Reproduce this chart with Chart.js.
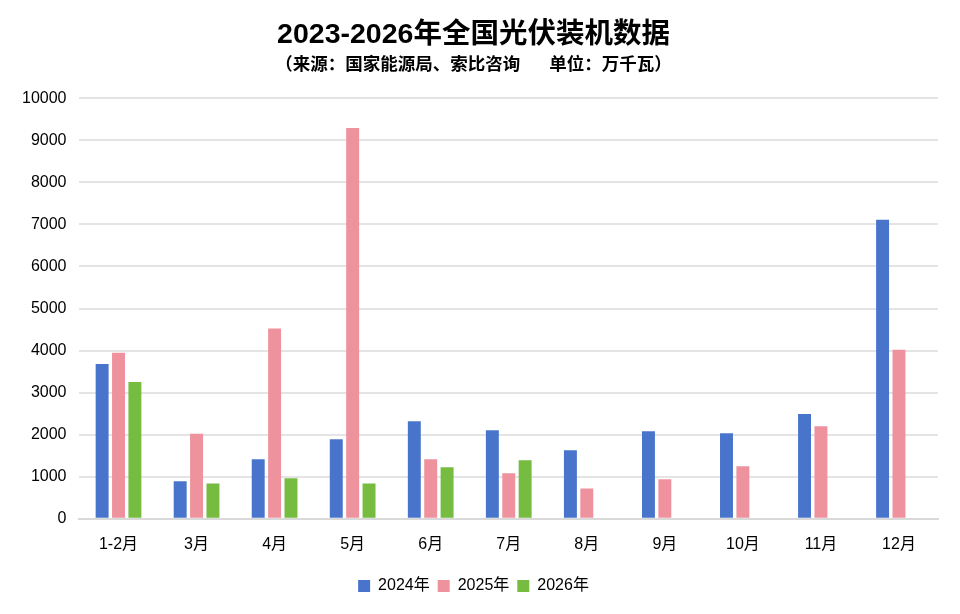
<!DOCTYPE html>
<html>
<head>
<meta charset="utf-8">
<script src="https://cdn.jsdelivr.net/npm/chart.js@4"></script>
<style>
  html, body { margin: 0; padding: 0; background: #fff; }
  #wrap { width: 960px; height: 614px; }
</style>
</head>
<body>
<div id="wrap"><canvas id="chart" width="960" height="614"></canvas></div>
<script>
// months on the x axis
const months = ['1-2月', '3月', '4月', '5月', '6月', '7月', '8月', '9月', '10月', '11月', '12月'];
// installations, 万千瓦
const data2024 = [3680, 890, 1415, 1893, 2322, 2107, 1630, 2083, 2036, 2489, 7110];
const data2025 = [3945, 2020, 4523, 9290, 1415, 1081, 723, 938, 1248, 2203, 4022];
const data2026 = [3253, 842, 962, 842, 1224, 1391, null, null, null, null, null];
const yTicks = [0, 1000, 2000, 3000, 4000, 5000, 6000, 7000, 8000, 9000, 10000];

const fontFamily = '"Liberation Sans", "Noto Sans CJK SC", sans-serif';

const ctx = document.getElementById('chart').getContext('2d');
new Chart(ctx, {
    type: 'bar',
    data: {
        labels: months,
        datasets: [
            { label: '2024年', data: data2024, backgroundColor: '#4874CB' },
            { label: '2025年', data: data2025, backgroundColor: '#EE929E' },
            { label: '2026年', data: data2026, backgroundColor: '#75BC41' }
        ]
    },
    options: {
        responsive: false,
        animation: false,
        categoryPercentage: 0.63,
        barPercentage: 0.79,
        layout: { padding: { left: 9, right: 22, top: 10, bottom: 10 } },
        plugins: {
            title: {
                display: true,
                text: '2023-2026年全国光伏装机数据',
                color: '#000',
                font: { family: fontFamily, size: 28.5, weight: 'bold' },
                padding: { top: 8, bottom: 2 }
            },
            subtitle: {
                display: true,
                text: '（来源：国家能源局、索比咨询      单位：万千瓦）',
                color: '#000',
                font: { family: fontFamily, size: 17.5, weight: 'bold' },
                padding: { top: 0, bottom: 23 }
            },
            legend: {
                position: 'bottom',
                labels: {
                    color: '#000',
                    font: { family: fontFamily, size: 16 },
                    boxWidth: 12,
                    boxHeight: 12,
                    padding: 8
                }
            },
            tooltip: { enabled: false }
        },
        scales: {
            x: {
                grid: { display: false, drawTicks: false },
                border: { color: '#d9d9d9', width: 2 },
                ticks: {
                    color: '#000',
                    font: { family: fontFamily, size: 16 },
                    padding: 16
                }
            },
            y: {
                min: 0,
                max: 10000,
                afterBuildTicks: axis => {
                    axis.ticks = yTicks.map(v => ({ value: v }));
                },
                grid: { color: '#e4e4e4', lineWidth: 2, drawTicks: false },
                border: { display: false },
                ticks: {
                    color: '#000',
                    font: { family: fontFamily, size: 16 },
                    padding: 13,
                    callback: value => String(value)
                }
            }
        }
    }
});
</script>
</body>
</html>
